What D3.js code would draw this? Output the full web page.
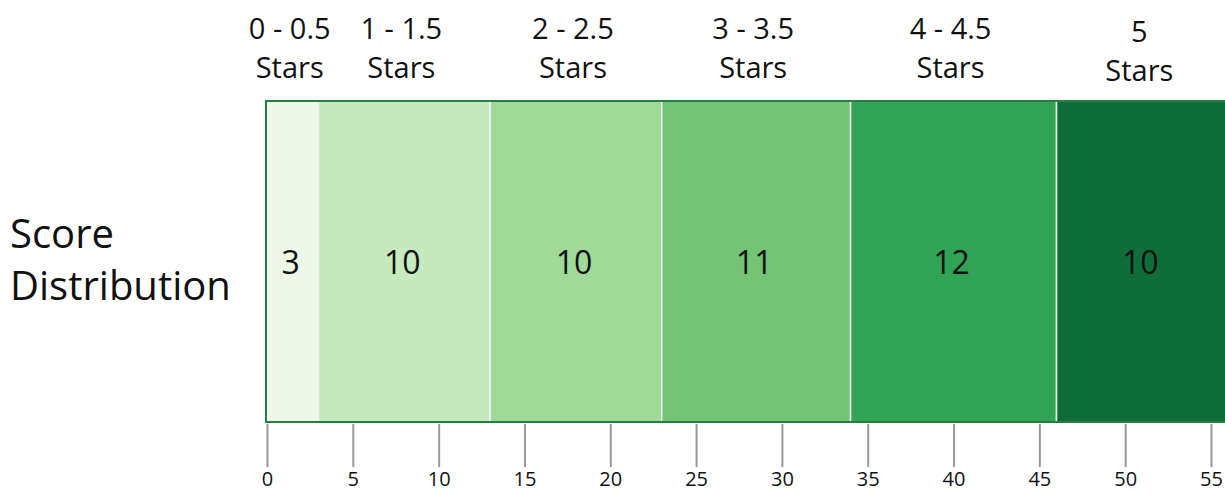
<!DOCTYPE html>
<html>
<head>
<meta charset="utf-8">
<script src="https://cdn.jsdelivr.net/npm/d3@7"></script>
<style>
  body { margin: 0; background: #fff; }
  svg { display: block; font-family: "Open Sans", sans-serif; }
</style>
</head>
<body>
<div id="chart"></div>
<script>
// data
const categories = ["0 - 0.5 Stars", "1 - 1.5 Stars", "2 - 2.5 Stars", "3 - 3.5 Stars", "4 - 4.5 Stars", "5 Stars"];
const counts = [3, 10, 10, 11, 12, 10];
const tickValues = [0, 5, 10, 15, 20, 25, 30, 35, 40, 45, 50, 55];
const colors = ["#edf8e9", "#c7e9c0", "#a1d99b", "#74c476", "#31a354", "#0f6e38"];

const width = 1225;
const height = 494;
const barTop = 101, barBottom = 422;

const svg = d3.select("#chart")
    .append("svg")
    .attr("width", width)
    .attr("height", height);

// stacked segments
let acc = 0;
const segments = counts.map((c, i) => {
    const s = { name: categories[i], value: c, x0: acc, x1: acc + c, color: colors[i] };
    acc += c;
    return s;
});

const x = d3.scaleLinear()
    .domain([0, 55])
    .range([267, 1211]);

// axis
const axis = svg.append("g")
    .attr("transform", `translate(0, ${barBottom + 2})`)
    .call(d3.axisBottom(x).tickValues(tickValues).tickSize(43).tickPadding(9));
axis.select(".domain").remove();
axis.selectAll(".tick line").attr("stroke", "#999").attr("stroke-width", 2);
axis.selectAll(".tick text")
    .attr("fill", "#111")
    .attr("dy", "0.52em")
    .style("font-size", "20px")
    .style("font-family", "'Open Sans', sans-serif");

// bar segments
svg.selectAll("rect.seg")
    .data(segments)
    .enter()
    .append("rect")
    .attr("class", "seg")
    .attr("x", d => x(d.x0))
    .attr("y", barTop)
    .attr("width", d => x(d.x1) - x(d.x0))
    .attr("height", barBottom - barTop)
    .attr("fill", d => d.color)
    .attr("stroke", "#f4f4f4")
    .attr("stroke-width", 1.5);

// outline
svg.append("rect")
    .attr("x", x(0) - 1)
    .attr("y", barTop)
    .attr("width", x(acc) - x(0) + 1)
    .attr("height", barBottom - barTop)
    .attr("fill", "none")
    .attr("stroke", "#23803f")
    .attr("stroke-width", 2);

// value labels
svg.selectAll("text.val")
    .data(segments)
    .enter()
    .append("text")
    .attr("class", "val")
    .attr("x", d => x((d.x0 + d.x1) / 2) - 2)
    .attr("y", (barTop + barBottom) / 2 + 12)
    .attr("text-anchor", "middle")
    .style("font-size", "32px")
    .attr("fill", "#111")
    .text(d => d.value);

// category labels
const cat = svg.selectAll("text.cat")
    .data(segments)
    .enter()
    .append("text")
    .attr("class", "cat")
    .attr("text-anchor", "middle")
    .attr("x", d => x((d.x0 + d.x1) / 2) - 3)
    .attr("y", (d, i) => i === segments.length - 1 ? 42 : 39)
    .style("font-size", "29px")
    .attr("fill", "#111");
cat.each(function(d) {
    const parts = d.name.split(" Stars");
    const t = d3.select(this);
    t.append("tspan").attr("x", t.attr("x")).text(parts[0]);
    t.append("tspan").attr("x", t.attr("x")).attr("dy", 39).text("Stars");
});

// row label
const rowLabel = svg.append("text")
    .attr("x", 10)
    .attr("y", 248)
    .style("font-size", "40px")
    .attr("fill", "#111");
rowLabel.append("tspan").attr("x", 10).text("Score");
rowLabel.append("tspan").attr("x", 10).attr("dy", 52).text("Distribution");
</script>
</body>
</html>
